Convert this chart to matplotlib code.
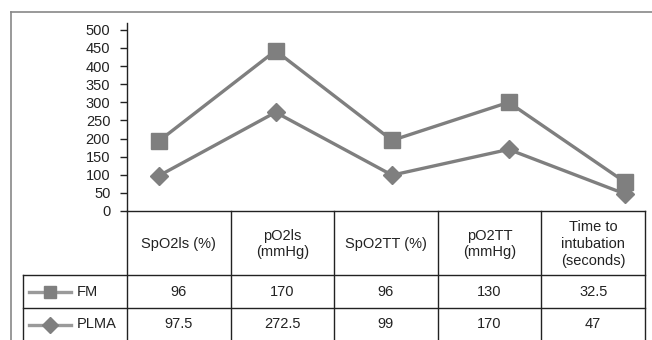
import numpy as np
import matplotlib
matplotlib.use("Agg")
import matplotlib.pyplot as plt
from matplotlib.lines import Line2D

plt.rcParams['font.family'] = ['Liberation Sans', 'DejaVu Sans']

categories = ["SpO2ls (%)", "pO2ls\n(mmHg)", "SpO2TT (%)", "pO2TT\n(mmHg)",
              "Time to\nintubation\n(seconds)"]
fm = np.array([96, 170, 96, 130, 32.5])
plma = np.array([97.5, 272.5, 99, 170, 47])
fm_labels = ["96", "170", "96", "130", "32.5"]
plma_labels = ["97.5", "272.5", "99", "170", "47"]
yticks = [0, 50, 100, 150, 200, 250, 300, 350, 400, 450, 500]

W, H = 652, 340
fig = plt.figure(figsize=(W / 100, H / 100), dpi=100)


def fx(x):
    return x / W


def fy(y):
    return 1 - y / H


# plot area in pixels
left, right, top, bottom = 127, 645, 23, 211
ax = fig.add_axes([fx(left), fy(bottom), fx(right) - fx(left), fy(top) - fy(bottom)])

gray = "#7f7f7f"
fs = 10.5
x = np.arange(len(categories))
# stacked line chart: PLMA at the bottom, FM stacked on top
ax.plot(x, plma, color=gray, lw=2.4, marker="D", ms=9.5, mec=gray, mfc=gray,
        clip_on=False, zorder=3)
ax.plot(x, plma + fm, color=gray, lw=2.4, marker="s", ms=11, mec=gray, mfc=gray,
        clip_on=False, zorder=3)

ax.set_xlim(-0.275, 4.17)
ax.set_ylim(0, 519)
ax.set_yticks(yticks)
ax.set_xticks([])
ax.tick_params(axis="y", direction="out", length=5, width=1, labelsize=fs,
               colors="#222222", pad=7)
for s in ["top", "right"]:
    ax.spines[s].set_visible(False)
ax.spines["left"].set_color("#222222")
ax.spines["bottom"].set_color("#222222")
ax.spines["left"].set_linewidth(1)
ax.spines["bottom"].set_linewidth(1)
ax.patch.set_alpha(0)

# outer chart frame
frame_c = "#888888"
fig.add_artist(Line2D([fx(11), fx(11)], [fy(12), fy(345)], color=frame_c, lw=1.2))
fig.add_artist(Line2D([fx(11), fx(653)], [fy(12), fy(12)], color=frame_c, lw=1.2))

# data table
lc = "#222222"
col_w = (right - left) / len(categories)
edges = [left + i * col_w for i in range(len(categories) + 1)]
row_top, row1, row2, row3 = 211, 275, 308, 341
leg_left = 23

for e in edges:
    fig.add_artist(Line2D([fx(e), fx(e)], [fy(row_top), fy(row3)], color=lc, lw=1))
fig.add_artist(Line2D([fx(leg_left), fx(leg_left)], [fy(row1), fy(row3)], color=lc, lw=1))
for r in [row1, row2]:
    fig.add_artist(Line2D([fx(leg_left), fx(right)], [fy(r), fy(r)], color=lc, lw=1))

tc = "#222222"
for i, name in enumerate(categories):
    cx = (edges[i] + edges[i + 1]) / 2
    fig.text(fx(cx), fy((row_top + row1) / 2 + 1), name, ha="center", va="center",
             fontsize=fs, color=tc, linespacing=1.25)
    fig.text(fx(cx), fy((row1 + row2) / 2), fm_labels[i], ha="center", va="center",
             fontsize=fs, color=tc)
    fig.text(fx(cx), fy((row2 + row3) / 2), plma_labels[i], ha="center", va="center",
             fontsize=fs, color=tc)

# legend keys inside the table
key_line = "#9a9a9a"
for (r0, r1_, mk, ms, label) in [(row1, row2, "s", 8.5, "FM"), (row2, row3, "D", 8, "PLMA")]:
    cy = fy((r0 + r1_) / 2)
    fig.add_artist(Line2D([fx(29), fx(71)], [cy, cy], color=key_line, lw=2.4))
    fig.add_artist(Line2D([fx(50)], [cy], color=gray, marker=mk, ms=ms,
                          mec=gray, mfc=gray, lw=0))
    fig.text(fx(77), cy, label, ha="left", va="center", fontsize=fs, color=tc)

fig.savefig("out.png", dpi=100)
